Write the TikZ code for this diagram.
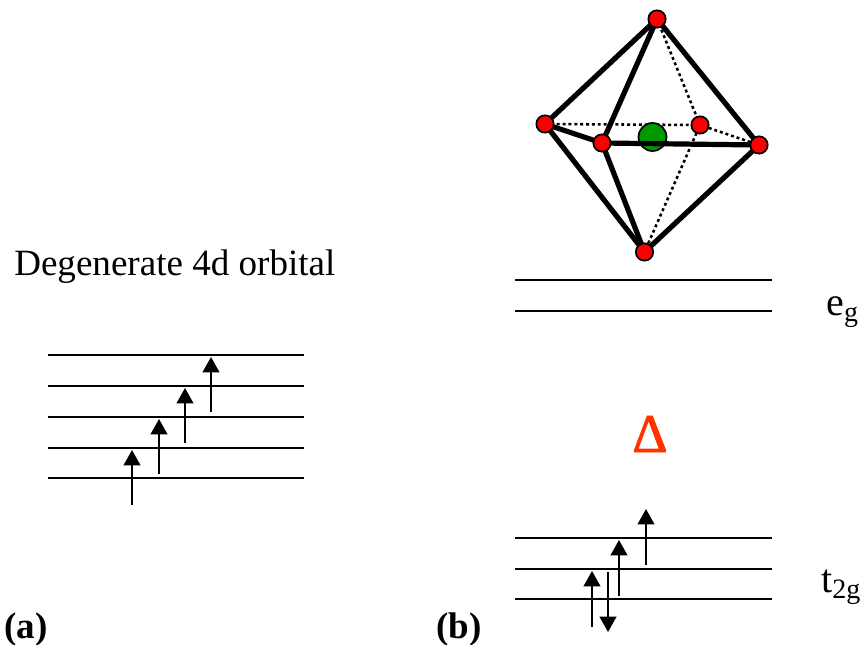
\documentclass[tikz,border=0pt]{standalone}
\usepackage{fontspec}
\setmainfont{Liberation Serif}
\newfontfamily\deltafont[FakeBold=1.6]{Liberation Serif}
\usetikzlibrary{arrows.meta}
\definecolor{vred}{HTML}{FB0000}
\definecolor{vgreen}{HTML}{009A00}
\definecolor{delta}{HTML}{FF3300}
\newcommand{\lowsub}[1]{\raisebox{-4.5pt}{\fontsize{21pt}{24pt}\selectfont #1}}
\tikzset{x=0.75pt,y=-0.75pt,
 lvl/.style={line width=1.5pt,black},
 spin/.style={line width=1.5pt,black,-{Triangle[length=11.5pt,width=12.5pt]}},
 thick edge/.style={line width=3.9pt,line cap=round,black},
 back edge/.style={line width=1.9pt,dash pattern=on 2.2pt off 2.2pt,black},
 vertex/.style={circle,draw=black,line width=1.3pt,fill=vred,minimum size=13pt,inner sep=0pt},
 lbl/.style={inner sep=0pt,anchor=base west,font=\fontsize{27.8pt}{32pt}\selectfont},
 lvllbl/.style={inner sep=0pt,anchor=base west,font=\fontsize{30pt}{34pt}\selectfont},
 boldlbl/.style={inner sep=0pt,anchor=base west,font=\fontsize{27.8pt}{32pt}\selectfont\bfseries}}
\begin{document}
\begin{tikzpicture}
\useasboundingbox (0,0) rectangle (863,645);
% left levels
\foreach \n/\y in {a/354.5,b/385.5,c/416.5,d/447.5,e/478}{
  \coordinate (l\n1) at (48,\y); \coordinate (l\n2) at (304,\y);
  \draw[lvl] (l\n1) -- (l\n2);}
\foreach \n/\y in {a/280,b/311,c/537.5,d/568.5,e/599}{
  \coordinate (r\n1) at (515,\y); \coordinate (r\n2) at (772,\y);
  \draw[lvl] (r\n1) -- (r\n2);}
% spin arrows
\foreach \n/\x/\ya/\yb in {s1/132/505/450,s2/159/474/419,s3/185/443/388,s4/211/412/357,t1/592/627/571,t2/619/596/540,t3/646/565/509}{
  \coordinate (\n a) at (\x,\ya); \coordinate (\n b) at (\x,\yb);
  \draw[spin] (\n a) -- (\n b);}
\coordinate (t4a) at (608,572); \coordinate (t4b) at (608,632);
\draw[spin] (t4a) -- (t4b);
% labels
\node[lbl] (title) at (14,276) {Degenerate 4d orbital};
\node[boldlbl] (pa) at (4,638) {(a)};
\node[boldlbl] (pb) at (436,638) {(b)};
\node[lvllbl] (eg) at (826,315) {e\lowsub{g}};
\node[lvllbl] (tg) at (821,592) {t\lowsub{2g}};
\node[inner sep=0pt,text=delta,font=\fontsize{41pt}{44pt}\selectfont\deltafont] (D) at (650,434) {\symbol{"0394}};
% octahedron
\coordinate (T) at (657,19); \coordinate (B) at (644.5,252);
\coordinate (L) at (545,124); \coordinate (R) at (759,145);
\coordinate (F) at (602,143); \coordinate (K) at (700,125);
\draw[back edge] (L) -- (K) -- (R);
\draw[back edge] (T) -- (K) -- (B);
\node[circle,draw=black,line width=1.3pt,fill=vgreen,minimum size=21pt,inner sep=0pt] (M) at (652.5,137) {};
\draw[thick edge] (T) -- (L) -- (B) -- (R) -- cycle;
\draw[thick edge] (T) -- (F) -- (B);
\draw[thick edge] (L) -- (F) -- (R);
\foreach \p in {T,B,L,R,F,K} \node[vertex] at (\p) {};
\end{tikzpicture}
\end{document}
